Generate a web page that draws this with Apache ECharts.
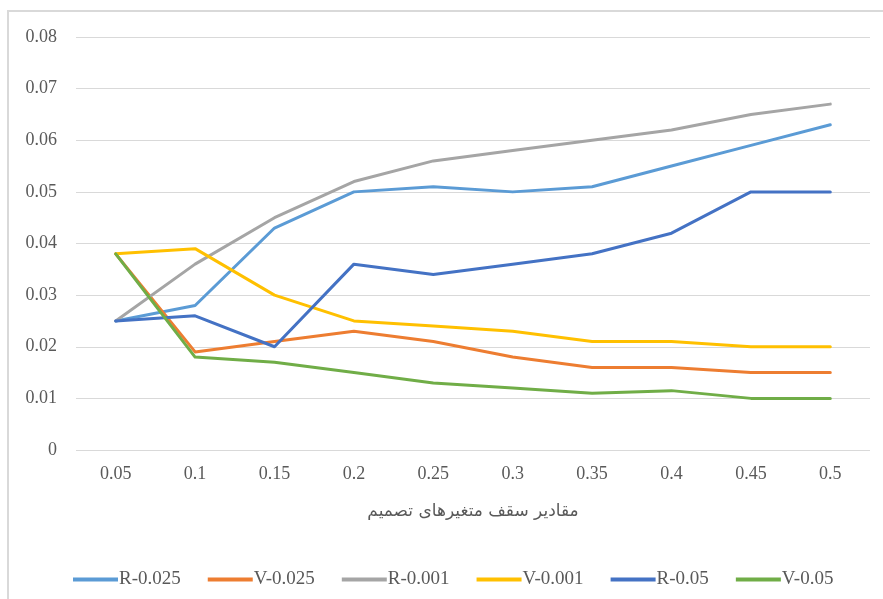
<!DOCTYPE html>
<html>
<head>
<meta charset="utf-8">
<script src="https://cdn.jsdelivr.net/npm/echarts@6/dist/echarts.min.js"></script>
<style>
  html, body { margin: 0; padding: 0; background: #ffffff; }
  #chart { width: 883px; height: 599px; }
</style>
</head>
<body>
<div id="chart"></div>
<script>
// Decision-variable upper bounds (x axis)
const categories = ['0.05', '0.1', '0.15', '0.2', '0.25', '0.3', '0.35', '0.4', '0.45', '0.5'];

// Series values
const r0025 = [0.025, 0.028, 0.043, 0.050, 0.051, 0.050, 0.051, 0.055, 0.059, 0.063];
const v0025 = [0.038, 0.019, 0.021, 0.023, 0.021, 0.018, 0.016, 0.016, 0.015, 0.015];
const r0001 = [0.025, 0.036, 0.045, 0.052, 0.056, 0.058, 0.060, 0.062, 0.065, 0.067];
const v0001 = [0.038, 0.039, 0.030, 0.025, 0.024, 0.023, 0.021, 0.021, 0.020, 0.020];
const r005  = [0.025, 0.026, 0.020, 0.036, 0.034, 0.036, 0.038, 0.042, 0.050, 0.050];
const v005  = [0.038, 0.018, 0.017, 0.015, 0.013, 0.012, 0.011, 0.0115, 0.010, 0.010];

const seriesNames = ['R-0.025', 'V-0.025', 'R-0.001', 'V-0.001', 'R-0.05', 'V-0.05'];
const seriesData = [r0025, v0025, r0001, v0001, r005, v005];
const seriesColors = ['#5B9BD5', '#ED7D31', '#A5A5A5', '#FFC000', '#4472C4', '#70AD47'];

const xTitle = 'مقادیر سقف متغیرهای تصمیم';

const chart = echarts.init(document.getElementById('chart'), null, { renderer: 'canvas' });

const serif = '"Liberation Serif", "Times New Roman", serif';

chart.setOption({
  backgroundColor: '#ffffff',
  animation: false,
  color: seriesColors,
  graphic: [{
    type: 'rect',
    silent: true,
    z: -10,
    shape: { x: 8, y: 11, width: 1000, height: 700 },
    style: { fill: 'none', stroke: '#d9d9d9', lineWidth: 2 }
  }],
  grid: { left: 76, right: 13, top: 37, bottom: 149, containLabel: false },
  legend: {
    data: seriesNames,
    left: 68,
    top: 565,
    icon: 'rect',
    itemWidth: 45,
    itemHeight: 4,
    itemGap: 27,
    textStyle: { fontFamily: serif, fontSize: 19, color: '#595959', padding: [0, 0, 0, -4] }
  },
  xAxis: {
    type: 'category',
    data: categories,
    boundaryGap: true,
    axisLine: { show: false },
    axisTick: { show: false },
    axisLabel: { fontFamily: serif, fontSize: 18, color: '#595959', margin: 15 },
    name: xTitle,
    nameLocation: 'middle',
    nameGap: 53,
    nameTextStyle: { fontFamily: '"DejaVu Sans", "Noto Sans", sans-serif', fontSize: 17, color: '#595959' }
  },
  yAxis: {
    type: 'value',
    min: 0,
    max: 0.08,
    interval: 0.01,
    axisLine: { show: false },
    axisTick: { show: false },
    axisLabel: {
      fontFamily: serif, fontSize: 18, color: '#595959', margin: 19,
      formatter: v => (v === 0 ? '0' : v.toFixed(2))
    },
    splitLine: { lineStyle: { color: '#d9d9d9', width: 1 } }
  },
  series: seriesNames.map((name, i) => ({
    name: name,
    type: 'line',
    data: seriesData[i],
    symbol: 'none',
    smooth: false,
    lineStyle: { width: 3, color: seriesColors[i], cap: 'round', join: 'round' },
    itemStyle: { color: seriesColors[i] }
  }))
});
</script>
</body>
</html>
